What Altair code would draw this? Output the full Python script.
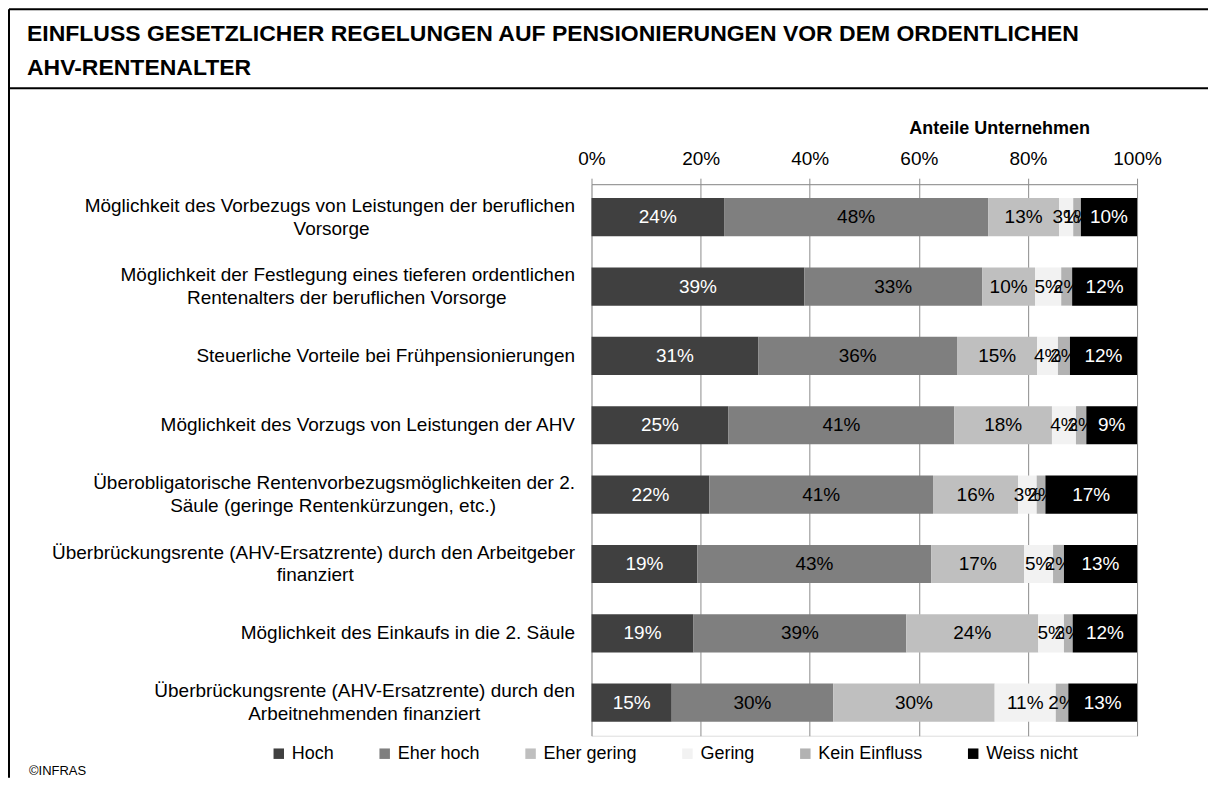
import altair as alt
import pandas as pd

# ---------------- data ----------------
categories = [
    "Möglichkeit des Vorbezugs von Leistungen der beruflichen\nVorsorge",
    "Möglichkeit der Festlegung eines tieferen ordentlichen\nRentenalters der beruflichen Vorsorge",
    "Steuerliche Vorteile bei Frühpensionierungen",
    "Möglichkeit des Vorzugs von Leistungen der AHV",
    "Überobligatorische Rentenvorbezugsmöglichkeiten der 2.\nSäule (geringe Rentenkürzungen, etc.)",
    "Überbrückungsrente (AHV-Ersatzrente) durch den Arbeitgeber\nfinanziert",
    "Möglichkeit des Einkaufs in die 2. Säule",
    "Überbrückungsrente (AHV-Ersatzrente) durch den\nArbeitnehmenden finanziert",
]
series = ["Hoch", "Eher hoch", "Eher gering", "Gering", "Kein Einfluss", "Weiss nicht"]
hoch = [24.3, 39.0, 30.6, 25.1, 21.6, 19.4, 18.7, 14.7]
eher_hoch = [48.4, 32.6, 36.4, 41.4, 41.0, 42.9, 39.0, 29.6]
eher_gering = [13.0, 9.7, 14.7, 17.9, 15.6, 17.0, 24.2, 29.6]
gering = [2.6, 4.8, 3.8, 4.4, 3.4, 5.3, 4.7, 11.2]
kein_einfluss = [1.4, 2.0, 2.2, 1.9, 1.6, 2.0, 1.6, 2.3]
weiss_nicht = [10.3, 11.9, 12.3, 9.3, 16.8, 13.4, 11.8, 12.6]
colors = ["#404040", "#7f7f7f", "#bfbfbf", "#f2f2f2", "#b2b2b2", "#000000"]
tick_values = [0, 20, 40, 60, 80, 100]
title_lines = ["EINFLUSS GESETZLICHER REGELUNGEN AUF PENSIONIERUNGEN VOR DEM ORDENTLICHEN",
               "AHV-RENTENALTER"]
axis_title = "Anteile Unternehmen"
source_text = "©INFRAS"

# --- centre the lines of two-line labels (Arial metrics, 1/1000 em) ---
W = {' ': 278, '\u00a0': 278, '.': 278, ',': 278, '(': 333, ')': 333, '-': 333, '2': 556,
     'a': 556, 'b': 556, 'c': 500, 'd': 556, 'e': 556, 'f': 278, 'g': 556, 'h': 556, 'i': 222,
     'j': 222, 'k': 500, 'l': 222, 'm': 833, 'n': 556, 'o': 556, 'p': 556, 'q': 556, 'r': 333,
     's': 500, 't': 278, 'u': 556, 'v': 500, 'w': 722, 'x': 500, 'y': 500, 'z': 500,
     'ä': 556, 'ö': 556, 'ü': 556, 'A': 667, 'B': 667, 'C': 722, 'D': 722, 'E': 667, 'F': 611,
     'G': 778, 'H': 722, 'I': 278, 'K': 667, 'L': 556, 'M': 833, 'R': 722, 'S': 667, 'V': 667,
     'Ü': 722}


def text_width(s):
    return sum(W.get(c, 556) for c in s)


def centred(label):
    # pad the shorter line with no-break spaces (closed by a zero-width space so they
    # are not trimmed), so that right-aligned lines appear centred on each other
    lines = label.split("\n")
    if len(lines) == 1:
        return label
    widths = [text_width(l) for l in lines]
    m = max(widths)
    out = []
    for l, w in zip(lines, widths):
        n = round((m - w) / 2 / 278)
        out.append(l + ("\u00a0" * n + "\u200b" if n else ""))
    return "\n".join(out)


display_labels = [centred(c) for c in categories]

all_values = [hoch, eher_hoch, eher_gering, gering, kein_einfluss, weiss_nicht]
rows = []
for s_idx, (s, vals) in enumerate(zip(series, all_values)):
    for c, v in zip(display_labels, vals):
        rows.append({"cat": c, "series": s, "value": v, "order": s_idx})
df = pd.DataFrame(rows)

FONT = "Liberation Sans"
GRID = "#8c8c8c"
FS = 19

x_axis = alt.Axis(
    orient="top", values=tick_values, labelExpr="datum.value + '%'", labelFlush=False,
    grid=True, gridColor=GRID, gridWidth=1, domainColor=GRID, tickColor=GRID,
    tickSize=6, labelFontSize=FS, labelPadding=10, labelColor="black", labelFont=FONT,
    title=axis_title, titleFontSize=18, titleFontWeight="bold", titleColor="black",
    titleFont=FONT, titleX=408, titleY=-56, titleAlign="center", titleBaseline="middle",
)
y_axis = alt.Axis(
    title=None, domain=False, ticks=False, grid=False, labelFontSize=FS, labelPadding=17,
    labelLimit=800, labelLineHeight=23, labelColor="black", labelFont=FONT,
    labelExpr="split(datum.label, '\\n')",
    labelOffset={"condition": {"test": "indexof(datum.value, '\\n') >= 0", "value": -11.5},
                 "value": 0},
)
x_scale = alt.Scale(domain=[0, 100], nice=False)
y_scale = alt.Scale(paddingInner=0.449, paddingOuter=0.2)

bars = alt.Chart(df).mark_bar().encode(
    y=alt.Y("cat:N", sort=display_labels, scale=y_scale, axis=y_axis),
    x=alt.X("value:Q", stack="zero", scale=x_scale, axis=x_axis),
    color=alt.Color(
        "series:N",
        scale=alt.Scale(domain=series, range=colors),
        legend=alt.Legend(
            orient="none", legendX=-322, legendY=561, direction="horizontal", columns=6,
            title=None, symbolType="square", symbolSize=110, symbolStrokeWidth=0,
            labelFontSize=18, labelOffset=4, columnPadding=41, labelColor="black",
            labelFont=FONT, padding=0,
        ),
    ),
    order=alt.Order("order:Q"),
)

labels = alt.Chart(df).transform_stack(
    stack="value", as_=["x0", "x1"], groupby=["cat"], sort=[alt.SortField("order")]
).transform_calculate(
    mid="(datum.x0 + datum.x1) / 2",
    label="format(datum.value, '.0f') + '%'",
).mark_text(fontSize=FS, font=FONT, align="center", baseline="middle").encode(
    y=alt.Y("cat:N", sort=display_labels, scale=y_scale, axis=y_axis),
    x=alt.X("mid:Q", scale=x_scale, axis=x_axis),
    text="label:N",
    color=alt.condition(
        alt.FieldOneOfPredicate(field="series", oneOf=["Hoch", "Weiss nicht"]),
        alt.value("white"), alt.value("black"),
    ),
)

one = pd.DataFrame({"a": [0]})
frame_left = alt.Chart(one).mark_rule(color="black", strokeWidth=2).encode(
    x=alt.value(-583), y=alt.value(-175), y2=alt.value(594))
frame_top = alt.Chart(one).mark_rule(color="black", strokeWidth=2).encode(
    x=alt.value(-583), x2=alt.value(617), y=alt.value(-175))
frame_sep = alt.Chart(one).mark_rule(color="black", strokeWidth=2).encode(
    x=alt.value(-583), x2=alt.value(617), y=alt.value(-96))
title = alt.Chart(one).mark_text(
    text=title_lines, align="left", baseline="top", fontSize=23, fontWeight="bold",
    font=FONT, lineHeight=34, color="black",
).encode(x=alt.value(-565), y=alt.value(-161))
source = alt.Chart(one).mark_text(
    text=source_text, align="left", baseline="middle", fontSize=13, font=FONT, color="black",
).encode(x=alt.value(-563), y=alt.value(587))

chart = alt.layer(bars, labels, frame_left, frame_top, frame_sep, title, source).properties(
    width=546, height=552, padding=0,
).configure_view(stroke=None).configure(font=FONT)

chart.save("out.html", embed_options={"renderer": "svg", "actions": False})
